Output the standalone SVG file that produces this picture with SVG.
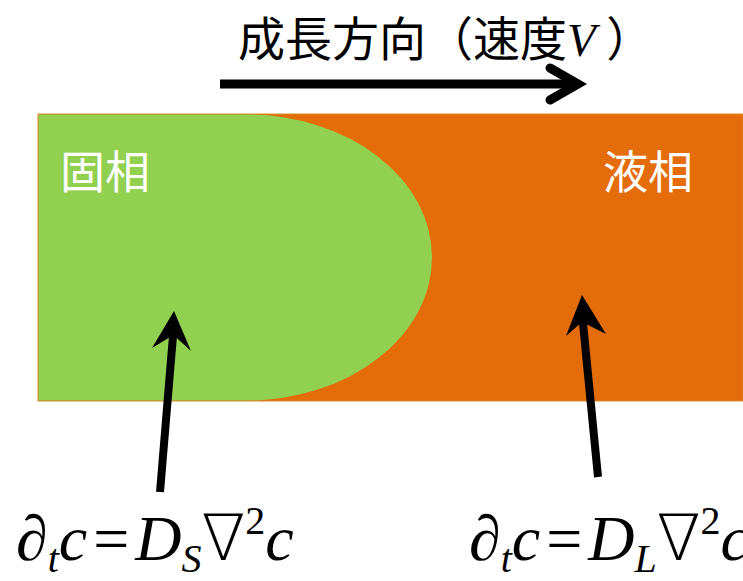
<svg xmlns="http://www.w3.org/2000/svg" width="743" height="581" viewBox="0 0 743 581">
<style>
.cjk{font-family:"Noto Sans CJK JP","Noto Sans CJK SC",sans-serif;}
.lab{fill:#ffffff;font-size:45px;}
.math{font-family:"Liberation Serif",serif;font-style:italic;fill:#000;}
.up{font-style:normal;}
.nabla{font-family:"DejaVu Sans","Liberation Serif",serif;font-style:normal;font-weight:200;}
.arr{fill:#000;}
</style>
<rect width="743" height="581" fill="#ffffff"/>
<g id="liquid">
<rect x="38" y="114" width="705" height="287" fill="#E46C0A" stroke="#D98B2A" stroke-width="1"/>
<text class="cjk lab" x="603" y="189">液相</text>
</g>
<g id="solid">
<path d="M38.5,114.5 H247 A185,143 0 0 1 247,400.5 H38.5 Z" fill="#92D050"/>
<text class="cjk lab" x="60" y="189">固相</text>
</g>
<g id="title">
<text class="cjk" x="238" y="56" font-size="47" fill="#000">成長方向（速度<tspan class="math" font-size="47">V</tspan> ）</text>
</g>
<g id="connectors">
<line x1="220" y1="84" x2="578" y2="84" stroke="#000" stroke-width="9"/>
<polyline points="550,68 578,84 550,100" fill="none" stroke="#000" stroke-width="9" stroke-linecap="round" stroke-linejoin="miter"/>
<line x1="160" y1="492" x2="173.5" y2="330" stroke="#000" stroke-width="8"/>
<polygon class="arr" points="174,311 191,351 173.5,335 152,348"/>
<line x1="598" y1="477" x2="582.5" y2="318" stroke="#000" stroke-width="8"/>
<polygon class="arr" points="582,295 606,334 582,322 566,336"/>
</g>
<g id="eqS">
<text class="math" x="16" y="560" font-size="64">∂<tspan font-size="40" dy="12">t</tspan><tspan dy="-12">c</tspan><tspan class="up" dx="6">=</tspan><tspan dx="6">D</tspan><tspan font-size="40" dy="12">S</tspan><tspan class="nabla" dy="-12">∇</tspan><tspan class="up" font-size="40" dy="-26">2</tspan><tspan dy="26">c</tspan></text>
</g>
<g id="eqL">
<text class="math" x="469" y="560" font-size="64">∂<tspan font-size="40" dy="12">t</tspan><tspan dy="-12">c</tspan><tspan class="up" dx="6">=</tspan><tspan dx="6">D</tspan><tspan font-size="40" dy="12">L</tspan><tspan class="nabla" dy="-12">∇</tspan><tspan class="up" font-size="40" dy="-26">2</tspan><tspan dy="26">c</tspan></text>
</g>
</svg>
